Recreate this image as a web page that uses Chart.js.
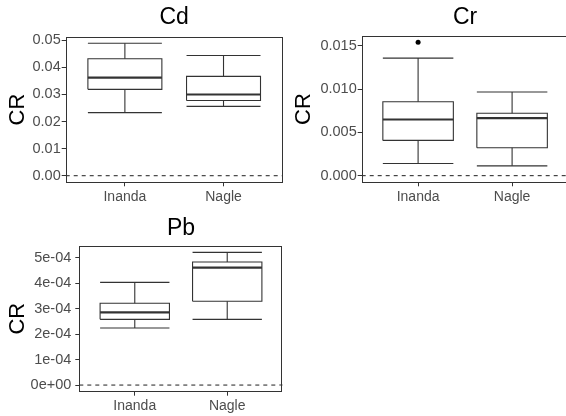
<!DOCTYPE html>
<html>
<head>
<meta charset="utf-8">
<script src="https://cdn.jsdelivr.net/npm/chart.js@4.4.0/dist/chart.umd.min.js"></script>
<style>
  html, body { margin: 0; padding: 0; background: #fff; overflow: hidden; }
  #wrap { position: relative; width: 566px; height: 416px; overflow: hidden; }
  canvas { position: absolute; }
</style>
</head>
<body>
<div id="wrap">
  <canvas id="cd" width="290" height="210" style="left:0;top:0"></canvas>
  <canvas id="cr" width="290" height="210" style="left:290px;top:0"></canvas>
  <canvas id="pb" width="290" height="211" style="left:0;top:205px"></canvas>
</div>
<script>
const categories = ['Inanda', 'Nagle'];

// box stats per site, order = categories
const cdLower = [0.0233, 0.0256];
const cdQ1 = [0.0319, 0.0278];
const cdMedian = [0.0362, 0.0300];
const cdQ3 = [0.0432, 0.0367];
const cdUpper = [0.0489, 0.0444];
const cdOutliers = [[], []];
const cdTicks = [0, 0.01, 0.02, 0.03, 0.04, 0.05];
const cdTickLabels = ['0.00', '0.01', '0.02', '0.03', '0.04', '0.05'];

const crLower = [0.00140, 0.00113];
const crQ1 = [0.00407, 0.00322];
const crMedian = [0.00648, 0.00663];
const crQ3 = [0.00853, 0.00721];
const crUpper = [0.01357, 0.00965];
const crOutliers = [[0.01539], []];
const crTicks = [0, 0.005, 0.010, 0.015];
const crTickLabels = ['0.000', '0.005', '0.010', '0.015'];

const pbLower = [2.24e-4, 2.58e-4];
const pbQ1 = [2.58e-4, 3.29e-4];
const pbMedian = [2.85e-4, 4.61e-4];
const pbQ3 = [3.21e-4, 4.83e-4];
const pbUpper = [4.03e-4, 5.21e-4];
const pbOutliers = [[], []];
const pbTicks = [0, 1e-4, 2e-4, 3e-4, 4e-4, 5e-4];
const pbTickLabels = ['0e+00', '1e-04', '2e-04', '3e-04', '4e-04', '5e-04'];

const INK = '#333333';
const FONT = "'Liberation Sans', Arial, sans-serif";
const HALF = 0.375;

function boxDatasets(lower, q1, med, q3, upper, outliers) {
  const sets = [];
  const seg = (pts, w) => sets.push({
    data: pts, showLine: true, borderColor: INK, borderWidth: w,
    pointRadius: 0, fill: false
  });
  categories.forEach((c, i) => {
    const x = i + 1;
    seg([{x: x - HALF, y: q1[i]}, {x: x + HALF, y: q1[i]}, {x: x + HALF, y: q3[i]},
         {x: x - HALF, y: q3[i]}, {x: x - HALF, y: q1[i]}], 1.1);
    seg([{x: x - HALF, y: med[i]}, {x: x + HALF, y: med[i]}], 2.2);
    seg([{x: x, y: q3[i]}, {x: x, y: upper[i]}], 1.1);
    seg([{x: x, y: lower[i]}, {x: x, y: q1[i]}], 1.1);
    seg([{x: x - HALF, y: upper[i]}, {x: x + HALF, y: upper[i]}], 1.1);
    seg([{x: x - HALF, y: lower[i]}, {x: x + HALF, y: lower[i]}], 1.1);
    if (outliers[i].length) {
      sets.push({
        data: outliers[i].map(v => ({x: x, y: v})),
        showLine: false, pointRadius: 2.5, pointBackgroundColor: '#000',
        pointBorderWidth: 0
      });
    }
  });
  // dashed reference line at zero
  sets.push({
    data: [{x: 0.4, y: 0}, {x: 2.6, y: 0}], showLine: true, borderColor: INK,
    borderWidth: 1.1, borderDash: [4, 4], pointRadius: 0
  });
  return sets;
}

const panelBorder = {
  id: 'panelBorder',
  afterDraw(chart) {
    const a = chart.chartArea, ctx = chart.ctx;
    ctx.save();
    ctx.strokeStyle = INK;
    ctx.lineWidth = 1;
    ctx.strokeRect(Math.round(a.left) + 0.5, Math.round(a.top) + 0.5,
      Math.round(a.right - a.left) - 1, Math.round(a.bottom - a.top) - 1);
    ctx.restore();
  }
};

function makePanel(id, title, stats, ticks, tickLabels, lay) {
  const all = [].concat(...stats.slice(0, 5), ...stats[5], [0]);
  const lo = Math.min(...all), hi = Math.max(...all);
  const pad = (hi - lo) * 0.05;
  new Chart(document.getElementById(id), {
    type: 'scatter',
    data: { datasets: boxDatasets(...stats) },
    plugins: [panelBorder],
    options: {
      responsive: false,
      animation: false,
      events: [],
      layout: { padding: { left: 0, right: lay.right, top: 0, bottom: lay.bottom } },
      scales: {
        x: {
          type: 'linear', min: 0.4, max: 2.6,
          afterBuildTicks: s => { s.ticks = categories.map((c, i) => ({ value: i + 1 })); },
          afterFit: s => { s.height = 24; },
          ticks: {
            callback: v => categories[v - 1],
            color: '#4d4d4d', padding: 2, maxRotation: 0,
            font: { family: FONT, size: 14 }
          },
          grid: { drawOnChartArea: false, drawTicks: true, tickLength: 4, color: INK },
          border: { display: false }
        },
        y: {
          min: lo - pad, max: hi + pad,
          afterBuildTicks: s => { s.ticks = ticks.map(v => ({ value: v })); },
          afterFit: s => { s.width = lay.yWidth; },
          ticks: {
            callback: v => tickLabels[ticks.indexOf(v)],
            color: '#4d4d4d', padding: lay.tickPad,
            font: { family: FONT, size: 14.5 }
          },
          grid: { drawOnChartArea: false, drawTicks: true, tickLength: 4, color: INK },
          border: { display: false },
          title: {
            display: true, text: 'CR', color: '#000',
            font: { family: FONT, size: 22, lineHeight: 1.2 },
            padding: { top: lay.yTitlePad, bottom: 0 }
          }
        }
      },
      plugins: {
        legend: { display: false },
        tooltip: { enabled: false },
        title: {
          display: true, text: title, fullSize: false, color: '#000',
          font: { family: FONT, size: 23, weight: 'normal', lineHeight: 1.2 },
          padding: { top: lay.titleTop, bottom: lay.titleBottom }
        }
      }
    }
  });
}

makePanel('cd', 'Cd', [cdLower, cdQ1, cdMedian, cdQ3, cdUpper, cdOutliers], cdTicks, cdTickLabels,
  { right: 7.3, bottom: 3.7, yWidth: 65.7, yTitlePad: 4.3, tickPad: 1, titleTop: 4.2, titleBottom: 4.9 });
makePanel('cr', 'Cr', [crLower, crQ1, crMedian, crQ3, crUpper, crOutliers], crTicks, crTickLabels,
  { right: 11.5, bottom: 3.7, yWidth: 71.7, yTitlePad: 1.0, tickPad: 1, titleTop: 4.2, titleBottom: 3.9 });
makePanel('pb', 'Pb', [pbLower, pbQ1, pbMedian, pbQ3, pbUpper, pbOutliers], pbTicks, pbTickLabels,
  { right: 7.3, bottom: 0.3, yWidth: 79.3, yTitlePad: 5.1, tickPad: 4, titleTop: 9.5, titleBottom: 3.6 });
</script>
</body>
</html>
